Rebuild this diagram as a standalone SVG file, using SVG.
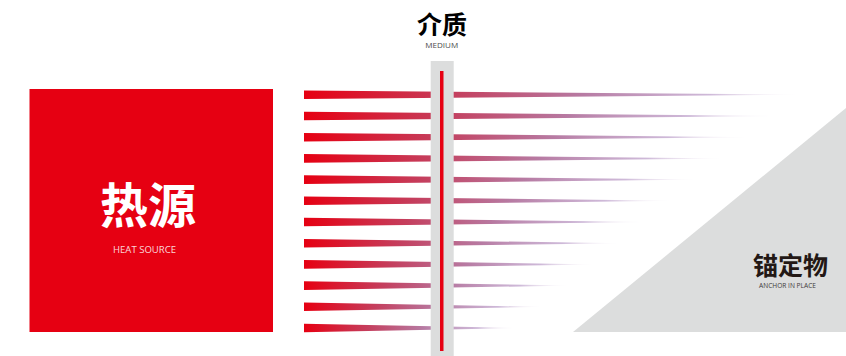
<svg xmlns="http://www.w3.org/2000/svg" width="846" height="356" viewBox="0 0 846 356">
<defs>
<linearGradient id="beam" x1="0" y1="0" x2="1" y2="0">
<stop offset="0" stop-color="#e60012"/>
<stop offset="0.3" stop-color="#c4405f"/>
<stop offset="0.55" stop-color="#b77ba3"/>
<stop offset="0.8" stop-color="#c2a8cf" stop-opacity="0.8"/>
<stop offset="1" stop-color="#ffffff" stop-opacity="0"/>
</linearGradient>
<style>
.cjk{font-family:"Noto Sans CJK SC","Noto Sans",sans-serif;font-weight:bold;text-anchor:middle}
.en{font-family:"Open Sans","Liberation Sans",sans-serif;text-anchor:middle}
.b{fill:url(#beam)}
</style>
</defs>
<rect width="846" height="356" fill="#ffffff"/>
<g id="anchor">
<polygon points="573,332 846,108 846,332" fill="#dcdddd"/>
<text class="cjk" x="790.5" y="275" font-size="25" fill="#231815">锚定物</text>
<text class="en" x="787.5" y="288" font-size="6.5" fill="#3e3a39" textLength="57" lengthAdjust="spacingAndGlyphs">ANCHOR IN PLACE</text>
</g>
<g id="connectors">
<polygon class="b" points="304,90.4 812,94.7 304,99"/>
<polygon class="b" points="304,111.7 786,116 304,120.3"/>
<polygon class="b" points="304,132.9 759,137.2 304,141.5"/>
<polygon class="b" points="304,154.1 733,158.4 304,162.7"/>
<polygon class="b" points="304,175.3 706,179.6 304,183.9"/>
<polygon class="b" points="304,196.5 680,200.8 304,205.1"/>
<polygon class="b" points="304,217.7 653,222 304,226.3"/>
<polygon class="b" points="304,238.9 627,243.2 304,247.5"/>
<polygon class="b" points="304,260.1 600,264.4 304,268.7"/>
<polygon class="b" points="304,281.3 574,285.6 304,289.9"/>
<polygon class="b" points="304,302.5 547,306.8 304,311.1"/>
<polygon class="b" points="304,323.7 521,328 304,332.3"/>
</g>
<g id="medium">
<rect x="430.7" y="61" width="23" height="295" fill="#dcdddd"/>
<rect x="440" y="71" width="3.5" height="280" fill="#e60012"/>
<text class="cjk" x="442" y="34" font-size="25" fill="#000000">介质</text>
<text class="en" x="441.7" y="48" font-size="6.5" fill="#4d4d4d" textLength="33" lengthAdjust="spacingAndGlyphs">MEDIUM</text>
</g>
<g id="heat-source">
<rect x="29.5" y="89" width="243.5" height="243" fill="#e60012"/>
<text class="cjk" x="148" y="223" font-size="48" fill="#ffffff">热源</text>
<text class="en" x="144.5" y="252.5" font-size="9.5" fill="#ffffff" fill-opacity="0.85" textLength="63" lengthAdjust="spacingAndGlyphs">HEAT SOURCE</text>
</g>
</svg>
